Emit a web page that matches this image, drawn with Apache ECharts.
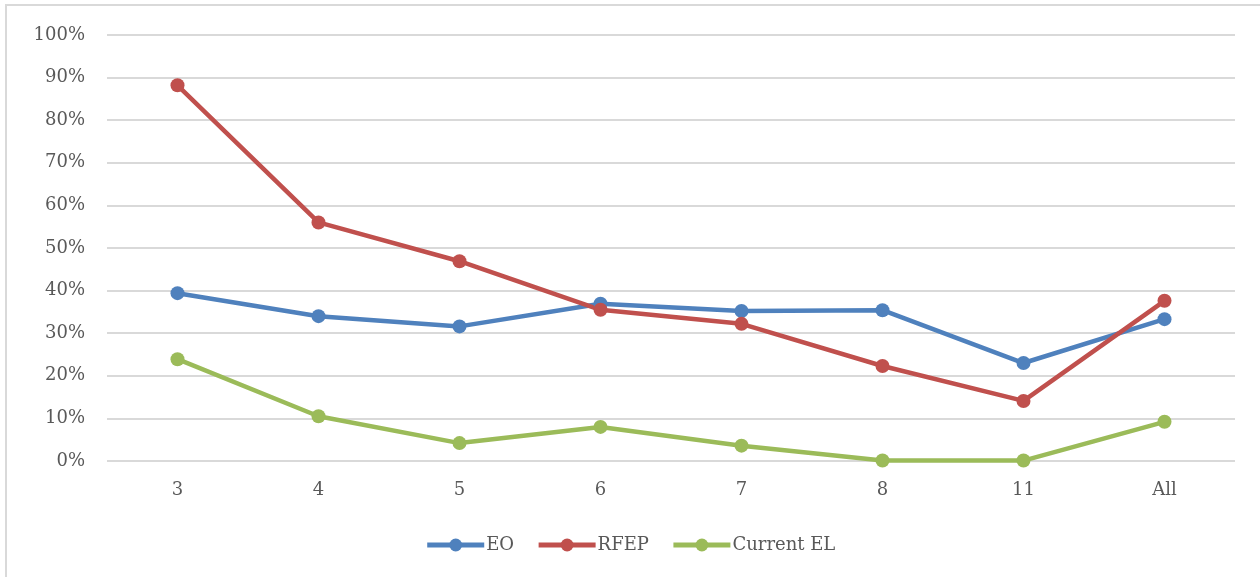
<!DOCTYPE html>
<html><head><meta charset="utf-8">
<script src="https://cdn.jsdelivr.net/npm/echarts@6/dist/echarts.min.js"></script>
<style>html,body{margin:0;padding:0;background:#fff}#c{width:1260px;height:577px}</style>
</head><body><div id="c"></div>
<script>
const categories = ['3','4','5','6','7','8','11','All'];
const eo = [39.4, 34.0, 31.6, 36.9, 35.2, 35.4, 23.0, 33.3];
const rfep = [88.2, 56.0, 46.9, 35.5, 32.2, 22.3, 14.1, 37.6];
const currentEL = [23.9, 10.5, 4.2, 8.0, 3.6, 0.1, 0.1, 9.2];
const yTicks = [0,10,20,30,40,50,60,70,80,90,100];

const font = 'DejaVu Serif';
const chart = echarts.init(document.getElementById('c'));
function mk(name, data, color){
  return {name, type:'line', data, color, lineStyle:{width:4.5,color}, itemStyle:{color},
    symbol:'circle', symbolSize:14, animation:false, z: 3};
}
chart.setOption({
  animation:false,
  textStyle:{fontFamily:font},
  graphic:[{type:'rect', shape:{x:6,y:5,width:1262,height:580}, style:{fill:'none', stroke:'#d9d9d9', lineWidth:2}, silent:true}],
  grid:{left:107,right:25,top:35,bottom:116},
  xAxis:{type:'category', data:categories, boundaryGap:true,
    axisLine:{show:false}, axisTick:{show:false},
    axisLabel:{color:'#595959', fontSize:18, fontFamily:font, margin:20}},
  yAxis:{type:'value', min:0, max:100, interval:10,
    axisLine:{show:false}, axisTick:{show:false},
    splitLine:{lineStyle:{color:'#d9d9d9', width:2}},
    axisLabel:{color:'#595959', fontSize:18, fontFamily:font, margin:22, formatter:v=>v+'%'}},
  legend:{bottom:18, left:'center', itemWidth:57, itemHeight:16, itemGap:22,
    lineStyle:{width:5},
    textStyle:{color:'#595959', fontSize:18, fontFamily:font, padding:[0,0,0,-3]}},
  series:[mk('EO', eo, '#4F81BD'), mk('RFEP', rfep, '#C0504D'), mk('Current EL', currentEL, '#9BBB59')]
});
</script></body></html>
